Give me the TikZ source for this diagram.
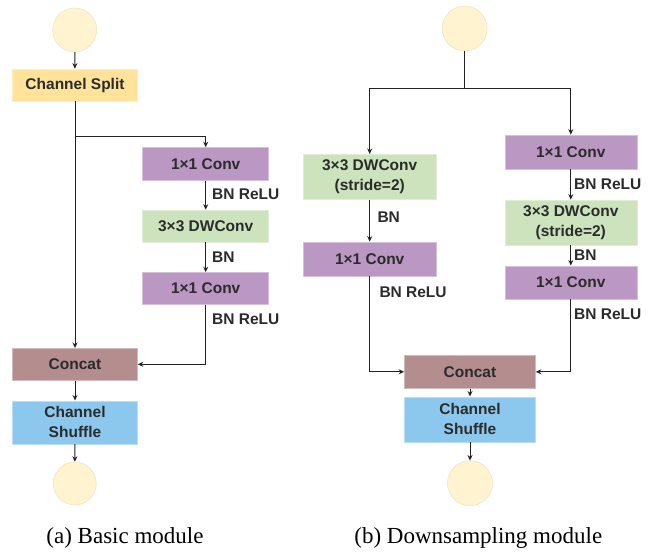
\documentclass[tikz,border=0pt]{standalone}
\usepackage{fontspec}
\setmainfont{Liberation Serif}
\newfontfamily\boxfont{Liberation Sans}
\usetikzlibrary{arrows.meta}
\definecolor{txt}{HTML}{2B2B2B}
\definecolor{cyel}{HTML}{FFE39B}
\definecolor{cpur}{HTML}{BB98C3}
\definecolor{cgrn}{HTML}{CCE3BE}
\definecolor{ccat}{HTML}{B48E8E}
\definecolor{cblu}{HTML}{8CC8EE}
\definecolor{ccir}{HTML}{FFF3D0}
\definecolor{lin}{HTML}{222222}
\tikzset{
  blk/.style={rectangle, inner sep=0pt, align=center, text=txt,
    font=\boxfont\bfseries\fontsize{15.5}{20}\selectfont},
  yel/.style={blk, fill=cyel, draw=cyel!60!white, line width=0.6pt},
  pur/.style={blk, fill=cpur, draw=cpur!60!white, line width=0.6pt},
  grn/.style={blk, fill=cgrn, draw=cgrn!60!white, line width=0.6pt},
  cat/.style={blk, fill=ccat, draw=ccat!60!white, line width=0.6pt},
  blu/.style={blk, fill=cblu, draw=cblu!60!white, line width=0.6pt},
  io/.style={circle, inner sep=0pt, fill=ccir, draw=ccir!85!gray, line width=0.5pt},
  lbl/.style={anchor=west, inner sep=0pt, text=txt,
    font=\boxfont\bfseries\fontsize{15.5}{18}\selectfont},
  captext/.style={inner sep=0pt, text=black, font=\fontsize{23}{26}\selectfont},
  ln/.style={draw=lin, line width=0.95pt},
  arr/.style={ln, -{Stealth[length=5.5pt,width=5pt]}}
}
\begin{document}
\begin{tikzpicture}[x=1pt,y=-1pt]
\useasboundingbox (0,0) rectangle (648,556);
% ---------- (a) basic module ----------
\node[io, minimum size=44pt] (cin1) at (74.7,30) {};
\node[yel, minimum width=125pt, minimum height=32pt] (split) at (75,85) {Channel Split};
\node[pur, minimum width=126pt, minimum height=33pt] (c1) at (205.7,164) {1×1 Conv};
\node[grn, minimum width=126pt, minimum height=32pt] (dw1) at (205.7,226) {3×3 DWConv};
\node[pur, minimum width=126pt, minimum height=32pt] (c2) at (205.7,288.5) {1×1 Conv};
\node[cat, minimum width=125pt, minimum height=32pt] (concat1) at (75,364.3) {Concat};
\node[blu, minimum width=125pt, minimum height=43pt] (shuffle1) at (75,422.3) {Channel\\Shuffle};
\node[io, minimum size=43pt] (cout1) at (74.8,483.5) {};
\coordinate (b1) at (75,136.7);
\draw[arr] (cin1) -- (split);
\draw[arr] (split.south) -- (concat1.north);
\draw[arr] (b1) -| (c1.north);
\draw[arr] (c1) -- (dw1);
\draw[arr] (dw1) -- (c2);
\draw[arr] (c2.south) |- (concat1.east);
\draw[arr] (concat1) -- (shuffle1);
\draw[arr] (shuffle1) -- (cout1);
\node[lbl] (l1) at (212,194.3) {BN ReLU};
\node[lbl] (l2) at (212,256.7) {BN};
\node[lbl] (l3) at (212,319.3) {BN ReLU};
\node[captext] (capa) at (125,538) {(a) Basic module};
% ---------- (b) downsampling module ----------
\node[io, minimum size=45pt] (cin2) at (464.7,28.5) {};
\node[grn, minimum width=133pt, minimum height=45pt] (dwL) at (369.7,176.8) {3×3 DWConv\\(stride=2)};
\node[pur, minimum width=133pt, minimum height=34pt] (cL) at (369.7,259) {1×1 Conv};
\node[pur, minimum width=132pt, minimum height=34pt] (cR1) at (570.8,152) {1×1 Conv};
\node[grn, minimum width=132pt, minimum height=45pt] (dwR) at (570.8,222.5) {3×3 DWConv\\(stride=2)};
\node[pur, minimum width=132pt, minimum height=33pt] (cR2) at (570.8,282.3) {1×1 Conv};
\node[cat, minimum width=131pt, minimum height=33pt] (concat2) at (470,371.8) {Concat};
\node[blu, minimum width=131pt, minimum height=45pt] (shuffle2) at (470,419.3) {Channel\\Shuffle};
\node[io, minimum size=45pt] (cout2) at (470,483.3) {};
\coordinate (b2) at (464.7,88);
\draw[ln] (cin2.south) -- (b2);
\draw[arr] (b2) -| (dwL.north);
\draw[arr] (b2) -| (cR1.north);
\draw[arr] (dwL) -- (cL);
\draw[arr] (cR1) -- (dwR);
\draw[arr] (dwR) -- (cR2);
\draw[arr] (cL.south) |- (concat2.west);
\draw[arr] (cR2.south) |- (concat2.east);
\draw[arr] (concat2) -- (shuffle2);
\draw[arr] (shuffle2) -- (cout2);
\node[lbl] (l4) at (377.3,216.7) {BN};
\node[lbl] (l5) at (379.3,292.7) {BN ReLU};
\node[lbl] (l6) at (574,184.3) {BN ReLU};
\node[lbl] (l7) at (574,255) {BN};
\node[lbl] (l8) at (574,314.3) {BN ReLU};
\node[captext] (capb) at (478.3,538) {(b) Downsampling module};
\end{tikzpicture}
\end{document}
